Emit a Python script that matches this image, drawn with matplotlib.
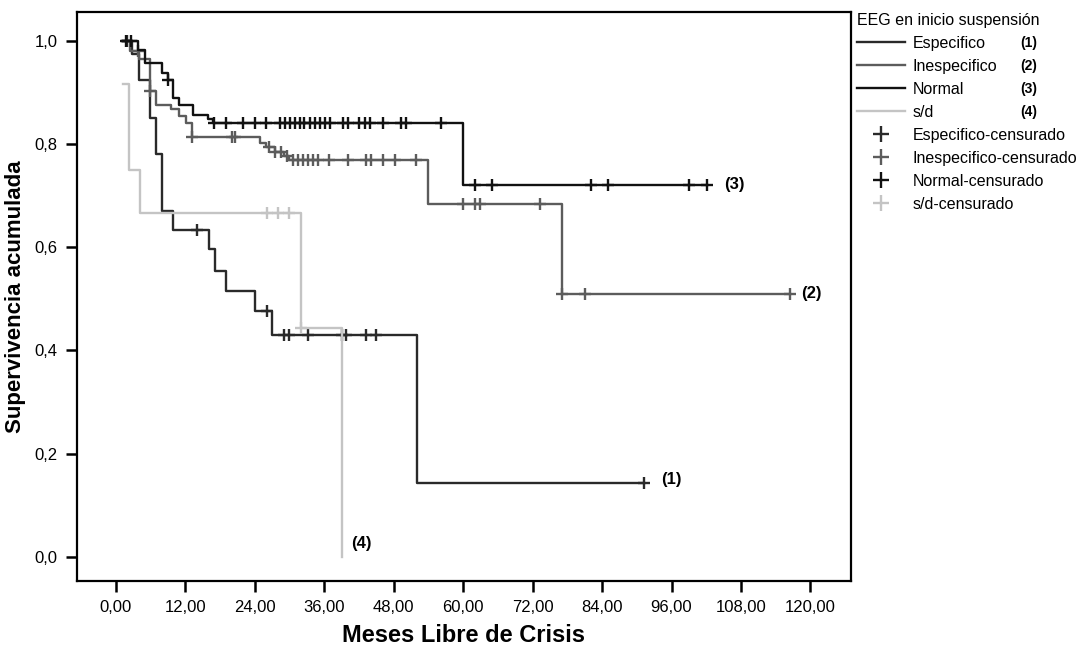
import numpy as np
import matplotlib
matplotlib.use("Agg")
import matplotlib.pyplot as plt
from matplotlib.lines import Line2D

# Kaplan-Meier steps (months, cumulative survival)
esp_t = [1.3, 2.8, 4.0, 5.9, 7.0, 8.0, 9.9, 16.1, 17.1, 19.0, 24.1, 27.0, 52.1, 91.3]
esp_s = [1.0, 0.975, 0.925, 0.851, 0.78, 0.67, 0.633, 0.596, 0.553, 0.515, 0.476, 0.43, 0.143, 0.143]
esp_cens = [2.0, 14.0, 26.1, 29.0, 29.9, 33.2, 39.1, 39.8, 43.2, 44.9, 91.3]

ine_t = [1.3, 2.5, 4.0, 5.9, 7.0, 9.6, 11.0, 12.2, 13.1, 24.9, 26.0, 27.5, 29.0, 30.0, 54.0, 77.1, 116.4]
ine_s = [1.0, 0.98, 0.965, 0.903, 0.875, 0.867, 0.854, 0.841, 0.814, 0.802, 0.795, 0.785, 0.777, 0.769,
         0.683, 0.51, 0.51]
ine_cens = [3.9, 5.9, 13.1, 20.0, 20.6, 26.5, 27.5, 28.5, 29.5, 30.6, 31.5, 32.3, 33.2, 34.0, 34.9, 36.9,
            40.1, 43.3, 44.1, 46.1, 48.2, 51.9, 60.0, 62.0, 63.0, 73.2, 77.1, 81.1, 116.4]

nor_t = [1.3, 3.9, 5.0, 7.9, 9.0, 9.9, 11.0, 13.3, 15.9, 16.8, 60.0, 102.2]
nor_s = [1.0, 0.982, 0.958, 0.938, 0.925, 0.89, 0.875, 0.857, 0.848, 0.84, 0.72, 0.72]
nor_cens = [1.8, 2.7, 9.0, 17.0, 19.0, 22.0, 24.0, 26.0, 28.3, 29.2, 30.1, 31.0, 31.8, 32.6, 33.5, 34.4,
            35.2, 36.1, 37.0, 39.2, 40.1, 42.1, 43.0, 44.0, 46.1, 49.3, 50.1, 56.2, 62.1, 65.0, 82.1,
            85.0, 99.1, 102.2]

sd_t = [1.3, 2.2, 4.1, 32.0, 39.1]
sd_s = [0.917, 0.75, 0.667, 0.444, 0.0]
sd_cens = [26.1, 28.1, 30.0, 32.0]

groups = ["Especifico", "Inespecifico", "Normal", "s/d"]
tags = ["(1)", "(2)", "(3)", "(4)"]
colors = ["#2a2a2a", "#5c5c5c", "#111111", "#c4c4c4"]
tag_pos = [(94.2, 0.149), (118.4, 0.51), (105.1, 0.722), (40.7, 0.025)]

series = [(esp_t, esp_s, esp_cens), (ine_t, ine_s, ine_cens),
          (nor_t, nor_s, nor_cens), (sd_t, sd_s, sd_cens)]

narrow = ["Liberation Sans Narrow", "Liberation Sans", "DejaVu Sans"]
plt.rcParams["font.family"] = ["Liberation Sans", "DejaVu Sans"]

fig = plt.figure(figsize=(10.92, 6.47), dpi=100)
ax = fig.add_axes([0.0705, 0.102, 0.7088, 0.8795])

for (t, s, c), col in zip(series, colors):
    ax.step(t, s, where="post", color=col, lw=1.7)
    # censored marks sit on the curve value at that time
    idx = np.searchsorted(t, c, side="right") - 1
    cs = np.array(s)[idx]
    ax.plot(c, cs, ls="none", marker="+", ms=8.5, mew=1.7, color=col)

for tag, (x, y) in zip(tags, tag_pos):
    ax.text(x, y, tag, fontsize=12, fontweight="bold", ha="left", va="center")

ax.set_xlim(-6.7, 127.0)
ax.set_ylim(-0.047, 1.056)
xt = np.arange(0, 121, 12)
ax.set_xticks(xt)
ax.set_xticklabels([f"{v:.2f}".replace(".", ",") for v in xt], family=narrow, fontsize=12)
yt = [0.0, 0.2, 0.4, 0.6, 0.8, 1.0]
ax.set_yticks(yt)
ax.set_yticklabels([f"{v:.1f}".replace(".", ",") for v in yt], family=narrow, fontsize=12)
ax.tick_params(direction="out", length=8, width=1.8, pad=6)
for sp in ax.spines.values():
    sp.set_linewidth(1.6)

ax.set_xlabel("Meses Libre de Crisis", family=narrow, fontsize=17, fontweight="bold", labelpad=6)
ax.set_ylabel("Supervivencia acumulada", fontsize=16, fontweight="bold", labelpad=6)

handles = [Line2D([], [], color=col, lw=1.7) for col in colors]
handles += [Line2D([], [], ls="none", marker="+", ms=12, mew=1.7, color=col) for col in colors]
labels = groups + [g + "-censurado" for g in groups]
leg = ax.legend(handles, labels, title="EEG en inicio suspensión", loc="upper left",
                bbox_to_anchor=(0.779, 0.99), bbox_transform=fig.transFigure, frameon=False,
                fontsize=11.5, title_fontsize=11.5, handlelength=3.0, handletextpad=0.5,
                labelspacing=0.5, borderaxespad=0)
leg._legend_box.align = "left"

fig.canvas.draw()
inv = fig.transFigure.inverted()
for txt, tag in zip(leg.get_texts()[:4], tags):
    bb = txt.get_window_extent()
    yc = inv.transform((0, (bb.y0 + bb.y1) / 2))[1]
    fig.text(1020 / 1092, yc, tag, fontsize=10, fontweight="bold", ha="left", va="center")

fig.savefig("out.png", dpi=100)
